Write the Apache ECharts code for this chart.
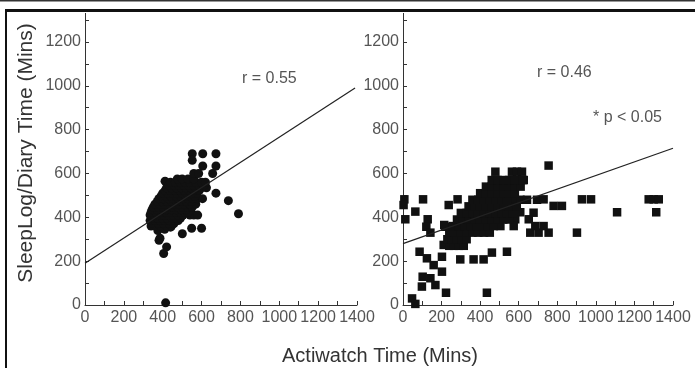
<!DOCTYPE html>
<html>
<head>
<meta charset="utf-8">
<script src="https://cdn.jsdelivr.net/npm/echarts@6/dist/echarts.min.js"></script>
<style>
  html, body { margin: 0; padding: 0; background: #fff; }
  #chart { width: 695px; height: 368px; }
</style>
</head>
<body>
<div id="chart"></div>
<script>
// left panel: actiwatch vs sleep log (circles)
const sleepLogPoints = [
  [415, 10], [405, 235], [420, 265], [381, 295], [386, 305], [501, 325], [549, 350], [600, 350],
  [412, 565], [738, 476], [790, 416], [552, 690], [606, 690], [674, 690], [552, 660], [606, 634],
  [674, 634], [657, 600], [674, 510], [375, 340], [410, 345], [440, 355],
  [340, 360], [365, 360], [390, 360], [420, 360], [445, 360],
  [350, 372], [378, 372], [405, 372], [432, 372], [458, 372],
  [335, 385], [360, 385], [385, 385], [410, 385], [435, 385], [460, 385], [480, 385],
  [345, 397], [372, 397], [398, 397], [422, 397], [448, 397], [470, 397], [492, 397],
  [335, 410], [355, 410], [380, 410], [405, 410], [430, 410], [455, 410], [480, 410], [505, 410], [540, 410], [560, 410], [580, 410],
  [340, 422], [365, 422], [392, 422], [418, 422], [442, 422], [468, 422], [492, 422], [515, 422], [530, 422],
  [345, 435], [370, 435], [395, 435], [420, 435], [445, 435], [470, 435], [495, 435], [520, 435],
  [352, 447], [378, 447], [402, 447], [428, 447], [452, 447], [478, 447], [502, 447], [528, 447], [552, 447],
  [360, 460], [385, 460], [410, 460], [435, 460], [460, 460], [485, 460], [510, 460], [540, 460], [570, 460],
  [372, 472], [398, 472], [422, 472], [448, 472], [472, 472], [498, 472], [522, 472], [548, 472],
  [380, 485], [405, 485], [430, 485], [455, 485], [480, 485], [505, 485], [530, 485], [555, 485], [580, 485], [605, 485],
  [392, 497], [418, 497], [442, 497], [468, 497], [492, 497], [518, 497], [542, 497], [565, 497],
  [400, 510], [425, 510], [450, 510], [475, 510], [500, 510], [525, 510], [550, 510], [575, 510],
  [412, 522], [438, 522], [462, 522], [488, 522], [512, 522], [538, 522], [562, 522], [588, 522],
  [420, 535], [445, 535], [470, 535], [495, 535], [520, 535], [545, 535], [570, 535], [600, 535], [625, 535],
  [432, 547], [458, 547], [482, 547], [508, 547], [532, 547], [558, 547], [585, 547], [612, 547],
  [440, 560], [465, 560], [490, 560], [515, 560], [540, 560], [570, 560], [600, 560], [620, 560],
  [475, 575], [500, 575], [530, 575], [560, 575], [560, 600], [585, 600]
];
// right panel: actiwatch vs diary (squares)
const diaryPoints = [
  [7, 482], [3, 456], [12, 391], [104, 482], [64, 426], [128, 391], [121, 357], [142, 330],
  [237, 456], [283, 482], [219, 357], [214, 365], [211, 274], [202, 220], [159, 182], [124, 213],
  [86, 243], [202, 152], [102, 129], [142, 122], [168, 91], [98, 84], [223, 56], [435, 56],
  [47, 30], [64, 5], [297, 208], [366, 208], [418, 208], [461, 239], [539, 243],
  [479, 608], [565, 608], [591, 608], [617, 608], [626, 570], [755, 636],
  [574, 480], [609, 480], [643, 480], [695, 480], [729, 482], [781, 452], [824, 452],
  [928, 482], [975, 482], [1110, 423], [1274, 482], [1300, 482], [1326, 482], [1313, 423],
  [902, 330], [755, 330], [703, 330], [660, 330], [686, 360], [677, 421], [652, 391],
  [608, 423], [582, 391], [574, 360], [505, 360], [729, 360],
  [240, 270], [265, 270], [290, 270], [315, 270],
  [230, 300], [255, 300], [280, 300], [305, 300], [330, 300],
  [240, 330], [270, 330], [300, 330], [330, 330], [360, 330], [390, 330], [420, 330], [450, 330],
  [260, 360], [290, 360], [320, 360], [350, 360], [380, 360], [410, 360], [440, 360], [470, 360],
  [280, 390], [310, 390], [340, 390], [370, 390], [400, 390], [430, 390], [460, 390], [490, 390], [520, 390], [550, 390],
  [300, 420], [330, 420], [360, 420], [390, 420], [420, 420], [450, 420], [480, 420], [510, 420], [540, 420], [570, 420],
  [340, 450], [370, 450], [400, 450], [430, 450], [460, 450], [490, 450], [520, 450], [550, 450], [590, 450],
  [360, 480], [390, 480], [420, 480], [450, 480], [480, 480], [510, 480], [540, 480],
  [400, 510], [430, 510], [460, 510], [490, 510], [520, 510], [550, 510], [580, 510],
  [430, 540], [460, 540], [490, 540], [520, 540], [550, 540], [580, 540], [610, 540],
  [460, 570], [490, 570], [520, 570], [550, 570], [580, 570], [620, 570]
];
const sleepLogFit = [[0, 190], [1390, 990]];
const diaryFit = [[0, 280], [1400, 715]];

const chart = echarts.init(document.getElementById('chart'), null, { renderer: 'canvas' });

const ink = '#333';
const labelColor = '#555';
const font = 'Liberation Sans, Arial, sans-serif';

function xAxisFor(gridIndex) {
  return {
    type: 'value', gridIndex, min: 0, max: 1400, interval: 100,
    axisLine: { show: true, onZero: false, lineStyle: { color: ink, width: 1 } },
    axisTick: { show: true, inside: true, length: 4, lineStyle: { color: ink } },
    axisLabel: {
      color: labelColor, fontSize: 16, fontFamily: font, margin: 5,
      hideOverlap: false,
      formatter: (v) => (v % 200 === 0 ? String(v) : '')
    },
    splitLine: { show: false }
  };
}
function yAxisFor(gridIndex) {
  return {
    type: 'value', gridIndex, min: 0, max: 1300, interval: 100,
    axisLine: { show: true, onZero: false, lineStyle: { color: ink, width: 1 } },
    axisTick: { show: true, inside: true, length: 4, lineStyle: { color: ink } },
    axisLabel: {
      color: labelColor, fontSize: 16, fontFamily: font, margin: 4,
      formatter: (v) => (v % 200 === 0 ? String(v) : '')
    },
    splitLine: { show: false }
  };
}

const option = {
  backgroundColor: '#fff',
  animation: false,
  grid: [
    { left: 85, top: 20, width: 272, height: 285 },
    { left: 403, top: 20, width: 270, height: 285 }
  ],
  xAxis: [xAxisFor(0), xAxisFor(1)],
  yAxis: [yAxisFor(0), yAxisFor(1)],
  series: [
    {
      type: 'scatter', xAxisIndex: 0, yAxisIndex: 0, data: sleepLogPoints,
      symbol: 'circle', symbolSize: 9, itemStyle: { color: '#111', opacity: 1 }
    },
    {
      type: 'line', xAxisIndex: 0, yAxisIndex: 0, data: sleepLogFit,
      symbol: 'none', lineStyle: { color: '#222', width: 1.2 }
    },
    {
      type: 'scatter', xAxisIndex: 1, yAxisIndex: 1, data: diaryPoints,
      symbol: 'rect', symbolSize: 8.5, itemStyle: { color: '#111', opacity: 1 }
    },
    {
      type: 'line', xAxisIndex: 1, yAxisIndex: 1, data: diaryFit,
      symbol: 'none', lineStyle: { color: '#222', width: 1.2 }
    }
  ],
  graphic: [
    // frame
    { type: 'line', shape: { x1: 0, y1: 0.5, x2: 695, y2: 0.5 }, style: { stroke: '#333', lineWidth: 2 } },
    { type: 'line', shape: { x1: 5, y1: 10.5, x2: 695, y2: 10.5 }, style: { stroke: '#111', lineWidth: 3 } },
    { type: 'line', shape: { x1: 6, y1: 10, x2: 6, y2: 368 }, style: { stroke: '#111', lineWidth: 2 } },
    // axis line stubs above last tick
    { type: 'line', shape: { x1: 85.5, y1: 13, x2: 85.5, y2: 20 }, style: { stroke: ink, lineWidth: 1 } },
    { type: 'line', shape: { x1: 403.5, y1: 13, x2: 403.5, y2: 20 }, style: { stroke: ink, lineWidth: 1 } },
    // annotations
    { type: 'text', x: 242, y: 79, style: { text: 'r = 0.55', fill: labelColor, font: '16px ' + font, textVerticalAlign: 'middle' } },
    { type: 'text', x: 537, y: 73, style: { text: 'r = 0.46', fill: labelColor, font: '16px ' + font, textVerticalAlign: 'middle' } },
    { type: 'text', x: 593, y: 118, style: { text: '* p < 0.05', fill: labelColor, font: '16px ' + font, textVerticalAlign: 'middle' } },
    // axis titles
    {
      type: 'text', x: 26, y: 153, rotation: Math.PI / 2,
      style: { text: 'SleepLog/Diary Time (Mins)', fill: ink, font: '21px ' + font, textAlign: 'center', textVerticalAlign: 'middle' }
    },
    {
      type: 'text', x: 380, y: 356,
      style: { text: 'Actiwatch Time (Mins)', fill: ink, font: '20px ' + font, textAlign: 'center', textVerticalAlign: 'middle' }
    }
  ]
};

chart.setOption(option);
window.addEventListener('resize', chart.resize);
</script>
</body>
</html>
